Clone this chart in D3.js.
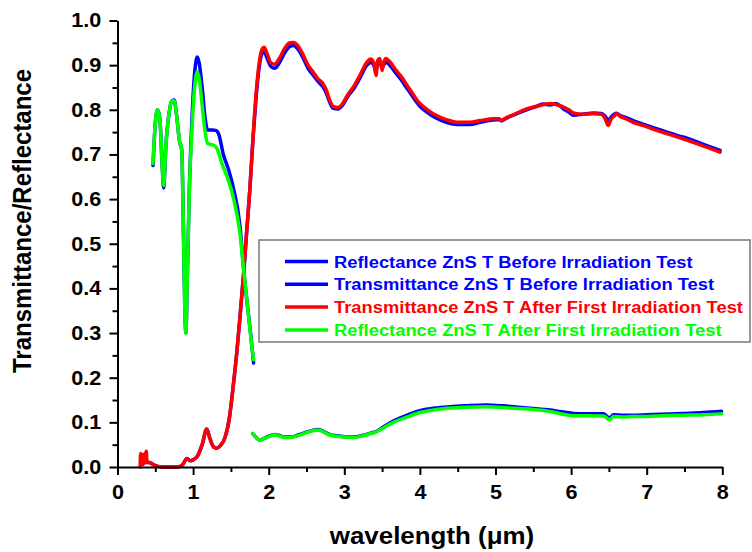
<!DOCTYPE html>
<html>
<head>
<meta charset="utf-8">
<script src="https://cdn.jsdelivr.net/npm/d3@7"></script>
<style>
  body { margin: 0; background: #fff; }
  text { font-family: "Liberation Sans", Arial, sans-serif; font-weight: bold; }
  .axis path, .axis line { stroke: #000; stroke-width: 2; }
  .curve { fill: none; stroke-linejoin: round; stroke-linecap: round; }
</style>
</head>
<body>
<div id="chart"></div>
<script>
// Data: [wavelength (um), value]
var reflBeforeVis = [
  [0.47, 0.675], [0.50, 0.77], [0.53, 0.80], [0.56, 0.78], [0.59, 0.68], [0.61, 0.625],
  [0.64, 0.72], [0.68, 0.79], [0.72, 0.82], [0.75, 0.822], [0.78, 0.79], [0.82, 0.73],
  [0.85, 0.71], [0.87, 0.55], [0.89, 0.36], [0.905, 0.30], [0.92, 0.40], [0.95, 0.62],
  [0.98, 0.76], [1.01, 0.86], [1.04, 0.91], [1.055, 0.918], [1.08, 0.905], [1.12, 0.85],
  [1.16, 0.78], [1.19, 0.755], [1.25, 0.755], [1.30, 0.754], [1.34, 0.745], [1.40, 0.70],
  [1.47, 0.665], [1.53, 0.627], [1.62, 0.54], [1.67, 0.44], [1.72, 0.36], [1.76, 0.30],
  [1.80, 0.233]
];
var reflBeforeIR = [
  [1.79, 0.075], [1.84, 0.065], [1.88, 0.060], [1.94, 0.064], [2.00, 0.069], [2.08, 0.073],
  [2.15, 0.070], [2.22, 0.067], [2.28, 0.067], [2.38, 0.071], [2.48, 0.077], [2.58, 0.082],
  [2.66, 0.084], [2.74, 0.078], [2.82, 0.072], [2.90, 0.070], [3.00, 0.068], [3.12, 0.067],
  [3.25, 0.071], [3.35, 0.076], [3.43, 0.080], [3.52, 0.090], [3.65, 0.103], [3.80, 0.114],
  [4.00, 0.126], [4.20, 0.132], [4.40, 0.135], [4.60, 0.137], [4.88, 0.139], [5.10, 0.137],
  [5.30, 0.134], [5.50, 0.131], [5.70, 0.128], [5.90, 0.123], [6.03, 0.120], [6.20, 0.119],
  [6.43, 0.119], [6.51, 0.110], [6.56, 0.117], [6.70, 0.116], [6.82, 0.116], [7.00, 0.117],
  [7.20, 0.118], [7.48, 0.120], [7.75, 0.122], [7.99, 0.125]
];
var transBefore = [
  [0.35, 0.01], [0.42, 0.01], [0.50, 0.003], [0.60, 0.0], [0.80, 0.0], [0.86, 0.005],
  [0.92, 0.019], [0.96, 0.014], [1.00, 0.016], [1.06, 0.025], [1.12, 0.05], [1.18, 0.085],
  [1.22, 0.065], [1.27, 0.045], [1.31, 0.042], [1.36, 0.048], [1.42, 0.065], [1.48, 0.11],
  [1.53, 0.18], [1.58, 0.26], [1.62, 0.336], [1.67, 0.437], [1.71, 0.53], [1.75, 0.62],
  [1.79, 0.73], [1.83, 0.82], [1.87, 0.89], [1.91, 0.925], [1.94, 0.93], [1.98, 0.915],
  [2.03, 0.897], [2.08, 0.893], [2.14, 0.905], [2.22, 0.93], [2.28, 0.942], [2.33, 0.944],
  [2.38, 0.937], [2.45, 0.918], [2.52, 0.893], [2.59, 0.877], [2.65, 0.864], [2.68, 0.858],
  [2.72, 0.851], [2.76, 0.838], [2.80, 0.82], [2.85, 0.804], [2.92, 0.802], [2.97, 0.809],
  [3.05, 0.831], [3.12, 0.846], [3.20, 0.869], [3.30, 0.9], [3.35, 0.906], [3.39, 0.9],
  [3.42, 0.885], [3.44, 0.903], [3.47, 0.906], [3.50, 0.895], [3.52, 0.9], [3.55, 0.907],
  [3.60, 0.9], [3.67, 0.885], [3.74, 0.87], [3.85, 0.843], [4.00, 0.808], [4.10, 0.794],
  [4.22, 0.781], [4.35, 0.772], [4.49, 0.767], [4.66, 0.767], [4.80, 0.772], [4.97, 0.777],
  [5.05, 0.778], [5.08, 0.775], [5.12, 0.779], [5.25, 0.789], [5.41, 0.80], [5.55, 0.808],
  [5.62, 0.813], [5.72, 0.811], [5.80, 0.814], [5.90, 0.802], [5.97, 0.795], [6.03, 0.788],
  [6.15, 0.79], [6.30, 0.793], [6.40, 0.792], [6.45, 0.786], [6.49, 0.776], [6.53, 0.784],
  [6.57, 0.79], [6.60, 0.792], [6.65, 0.787], [6.72, 0.783], [6.82, 0.776], [6.95, 0.768],
  [7.13, 0.758], [7.30, 0.748], [7.48, 0.739], [7.70, 0.726], [7.97, 0.709]
];
var transAfter = [
  [0.30, 0.0], [0.305, 0.03], [0.31, 0.005], [0.33, 0.028], [0.34, 0.005], [0.36, 0.03],
  [0.37, 0.01], [0.38, 0.035], [0.39, 0.012], [0.42, 0.01], [0.50, 0.003], [0.60, 0.0],
  [0.80, 0.0], [0.86, 0.005], [0.92, 0.019], [0.96, 0.014], [1.00, 0.016], [1.06, 0.025],
  [1.12, 0.05], [1.18, 0.085], [1.22, 0.065], [1.27, 0.045], [1.31, 0.042], [1.36, 0.048],
  [1.42, 0.065], [1.48, 0.11], [1.53, 0.18], [1.58, 0.26], [1.62, 0.336], [1.67, 0.437],
  [1.71, 0.53], [1.75, 0.62], [1.79, 0.73], [1.83, 0.83], [1.87, 0.90], [1.91, 0.935],
  [1.94, 0.94], [1.98, 0.925], [2.03, 0.905], [2.08, 0.902], [2.14, 0.915], [2.22, 0.94],
  [2.28, 0.95], [2.33, 0.951], [2.38, 0.945], [2.45, 0.925], [2.52, 0.90], [2.59, 0.884],
  [2.65, 0.87], [2.68, 0.865], [2.72, 0.858], [2.76, 0.845], [2.80, 0.825], [2.85, 0.808],
  [2.92, 0.805], [2.97, 0.812], [3.05, 0.835], [3.12, 0.851], [3.20, 0.875], [3.30, 0.907],
  [3.35, 0.914], [3.39, 0.905], [3.42, 0.877], [3.44, 0.91], [3.47, 0.915], [3.50, 0.888],
  [3.52, 0.905], [3.55, 0.915], [3.60, 0.908], [3.67, 0.892], [3.74, 0.877], [3.85, 0.85],
  [4.00, 0.814], [4.10, 0.80], [4.22, 0.787], [4.35, 0.778], [4.49, 0.772], [4.66, 0.772],
  [4.80, 0.776], [4.97, 0.78], [5.05, 0.78], [5.08, 0.776], [5.12, 0.78], [5.25, 0.79],
  [5.41, 0.802], [5.55, 0.808], [5.72, 0.814], [5.80, 0.812], [5.90, 0.806], [5.97, 0.80],
  [6.03, 0.793], [6.15, 0.79], [6.30, 0.791], [6.40, 0.79], [6.45, 0.78], [6.49, 0.765],
  [6.53, 0.78], [6.57, 0.786], [6.60, 0.791], [6.65, 0.785], [6.72, 0.78], [6.82, 0.772],
  [6.95, 0.765], [7.13, 0.754], [7.30, 0.745], [7.48, 0.735], [7.70, 0.722], [7.97, 0.705]
];
var reflAfterVis = [
  [0.47, 0.68], [0.50, 0.77], [0.53, 0.80], [0.56, 0.78], [0.59, 0.68], [0.61, 0.63],
  [0.64, 0.72], [0.68, 0.79], [0.72, 0.82], [0.75, 0.82], [0.78, 0.79], [0.82, 0.73],
  [0.85, 0.71], [0.87, 0.55], [0.89, 0.36], [0.905, 0.30], [0.92, 0.40], [0.95, 0.62],
  [0.98, 0.74], [1.01, 0.83], [1.04, 0.877], [1.055, 0.886], [1.08, 0.87], [1.12, 0.81],
  [1.16, 0.75], [1.19, 0.725], [1.24, 0.722], [1.28, 0.72], [1.32, 0.712], [1.38, 0.68],
  [1.45, 0.65], [1.53, 0.605], [1.62, 0.523], [1.67, 0.44], [1.72, 0.36], [1.76, 0.295],
  [1.80, 0.24]
];
var reflAfterIR = [
  [1.79, 0.075], [1.84, 0.065], [1.88, 0.060], [1.94, 0.064], [2.00, 0.068], [2.08, 0.072],
  [2.15, 0.069], [2.22, 0.066], [2.28, 0.066], [2.38, 0.070], [2.48, 0.076], [2.58, 0.081],
  [2.66, 0.083], [2.74, 0.077], [2.82, 0.071], [2.90, 0.069], [3.00, 0.067], [3.12, 0.066],
  [3.25, 0.070], [3.35, 0.075], [3.43, 0.079], [3.52, 0.088], [3.65, 0.100], [3.80, 0.110],
  [4.00, 0.122], [4.20, 0.128], [4.40, 0.132], [4.60, 0.134], [4.88, 0.135], [5.10, 0.133],
  [5.30, 0.131], [5.50, 0.129], [5.70, 0.125], [5.90, 0.118], [6.03, 0.115], [6.20, 0.115],
  [6.43, 0.114], [6.51, 0.106], [6.56, 0.113], [6.70, 0.112], [6.82, 0.113], [7.00, 0.113],
  [7.20, 0.115], [7.48, 0.116], [7.75, 0.117], [7.99, 0.119]
];

var xTicks = [0, 1, 2, 3, 4, 5, 6, 7, 8];
var yTicks = [0, 0.1, 0.2, 0.3, 0.4, 0.5, 0.6, 0.7, 0.8, 0.9, 1.0];

var legendLabels = [
  "Reflectance ZnS T Before Irradiation Test",
  "Transmittance ZnS T Before Irradiation Test",
  "Transmittance ZnS T After First Irradiation Test",
  "Reflectance ZnS T After First Irradiation Test"
];
var legendColors = ["#0000ff", "#0000ff", "#ff0000", "#00ff00"];

// Drawing order: blue, blue, red, green on top
var series = [
  { segments: [reflBeforeVis, reflBeforeIR], color: "#0000ff", width: 3.5 },
  { segments: [transBefore], color: "#0000ff", width: 3.5 },
  { segments: [transAfter], color: "#ff0000", width: 3.5 },
  { segments: [reflAfterVis, reflAfterIR], color: "#00ff00", width: 3.5 }
];

var width = 752, height = 552;
var stretch = 1.08; // text in the figure is slightly widened

var x = d3.scaleLinear().domain([0, 8]).range([117.5, 722.3]);
var y = d3.scaleLinear().domain([0, 1]).range([467, 20.5]);

var svg = d3.select("#chart").append("svg")
    .attr("width", width)
    .attr("height", height);

// Curves
var line = d3.line()
    .x(function(d) { return x(d[0]); })
    .y(function(d) { return y(d[1]); })
    .curve(d3.curveMonotoneX);

series.forEach(function(s) {
  s.segments.forEach(function(seg) {
    svg.append("path")
      .attr("class", "curve")
      .attr("d", line(seg))
      .attr("stroke", s.color)
      .attr("stroke-width", s.width);
  });
});

// Minor ticks
svg.append("g")
    .attr("class", "axis")
    .attr("transform", "translate(0," + y(0) + ")")
    .call(d3.axisBottom(x).tickValues(d3.range(0.5, 8, 1)).tickFormat("").tickSize(5).tickSizeOuter(0))
    .select(".domain").remove();

svg.append("g")
    .attr("class", "axis")
    .attr("transform", "translate(" + x(0) + ",0)")
    .call(d3.axisLeft(y).tickValues(d3.range(0.05, 1, 0.1)).tickFormat("").tickSize(5).tickSizeOuter(0))
    .select(".domain").remove();

// Major axes
var xAxis = svg.append("g")
    .attr("class", "axis")
    .attr("transform", "translate(0," + y(0) + ")")
    .call(d3.axisBottom(x).tickValues(xTicks).tickFormat(d3.format("d")).tickSize(8).tickSizeOuter(0).tickPadding(10));

xAxis.selectAll("text")
    .attr("font-size", 20)
    .attr("fill", "#000")
    .attr("transform", "scale(" + stretch + ",1)");

var yAxis = svg.append("g")
    .attr("class", "axis")
    .attr("transform", "translate(" + x(0) + ",0)")
    .call(d3.axisLeft(y).tickValues(yTicks).tickFormat(d3.format(".1f")).tickSize(8).tickSizeOuter(0).tickPadding(7));

yAxis.selectAll("text")
    .attr("font-size", 20)
    .attr("fill", "#000")
    .attr("transform", "scale(" + stretch + ",1)");

// Axis titles
svg.append("text")
    .attr("transform", "translate(432,544) scale(" + stretch + ",1)")
    .attr("text-anchor", "middle")
    .attr("font-size", 24)
    .text("wavelength (\u03bcm)");

svg.append("text")
    .attr("transform", "translate(31,221) rotate(-90) scale(1," + stretch + ")")
    .attr("text-anchor", "middle")
    .attr("font-size", 24)
    .text("Transmittance/Reflectance");

// Legend
var legend = svg.append("g").attr("transform", "translate(259,240)");

legend.append("rect")
    .attr("x", 0)
    .attr("y", 0)
    .attr("width", 491)
    .attr("height", 102)
    .attr("fill", "#fff")
    .attr("stroke", "#777")
    .attr("stroke-width", 1.5);

var rows = legend.selectAll("g.row")
    .data(legendLabels)
  .enter().append("g")
    .attr("class", "row")
    .attr("transform", function(d, i) { return "translate(0," + (21.5 + i * 22.8) + ")"; });

rows.append("line")
    .attr("x1", 26)
    .attr("x2", 69)
    .attr("stroke", function(d, i) { return legendColors[i]; })
    .attr("stroke-width", 3.5);

rows.append("text")
    .attr("transform", "translate(75,6) scale(" + stretch + ",1)")
    .attr("font-size", 17)
    .attr("fill", function(d, i) { return legendColors[i]; })
    .text(function(d) { return d; });
</script>
</body>
</html>
